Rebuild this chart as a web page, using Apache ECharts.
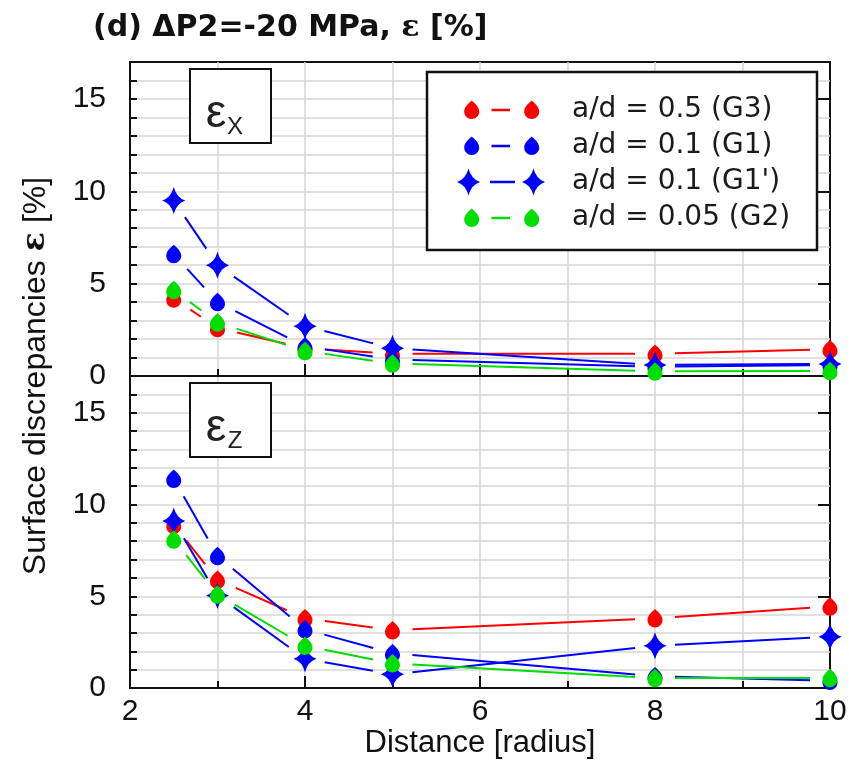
<!DOCTYPE html>
<html><head><meta charset="utf-8">
<script src="https://cdn.jsdelivr.net/npm/echarts@6/dist/echarts.min.js"></script>
<style>html,body{margin:0;padding:0;background:#fff}#c{width:856px;height:760px}</style>
</head><body><div id="c"></div><script>
// ---------------- data ----------------
const distance = [2.5, 3, 4, 5, 8, 10];
const seriesNames = ['a/d = 0.5 (G3)', 'a/d = 0.1 (G1)', "a/d = 0.1 (G1')", 'a/d = 0.05 (G2)'];
const epsX_G3  = [4.2, 2.6, 1.5, 1.2, 1.2, 1.45];
const epsX_G1  = [6.6, 4.0, 1.6, 0.9, 0.5, 0.6];
const epsX_G1p = [9.5, 6.0, 2.7, 1.5, 0.6, 0.65];
const epsX_G2  = [4.65, 2.9, 1.35, 0.68, 0.25, 0.27];
const epsZ_G3  = [8.9, 5.9, 3.8, 3.15, 3.8, 4.45];
const epsZ_G1  = [11.4, 7.2, 3.2, 1.9, 0.65, 0.4];
const epsZ_G1p = [9.1, 5.05, 1.6, 0.75, 2.3, 2.8];
const epsZ_G2  = [8.1, 5.1, 2.3, 1.35, 0.55, 0.55];
const xTickLabels = ['2', '4', '6', '8', '10'];
const yTickLabels = ['0', '5', '10', '15'];
const panelSubscripts = ['X', 'Z'];
const titleText = '(d) ΔP2=-20 MPa, ';
const yName = 'Surface discrepancies ';
const xName = 'Distance [radius]';

// ---------------- styling ----------------
const colors = ['#ff0000', '#0000ff', '#0000ff', '#00dd00'];
const isStar = [false, false, true, false];
const panels = [
  [epsX_G3, epsX_G1, epsX_G1p, epsX_G2],
  [epsZ_G3, epsZ_G1, epsZ_G1p, epsZ_G2]
];
const SANS = '"Liberation Sans", Arial, sans-serif';
const DEJ = '"DejaVu Sans", sans-serif';
const GAP = 20;

function f(n) { return (Math.round(n * 100) / 100).toString(); }
function dropPath(cx, cy) {
  const r = 7.5, k = 4.14;
  return 'M' + f(cx) + ',' + f(cy - 9.5) +
    ' C' + f(cx + 2.5) + ',' + f(cy - 7) + ' ' + f(cx + r) + ',' + f(cy - 3.5) + ' ' + f(cx + r) + ',' + f(cy + 1.5) +
    ' C' + f(cx + r) + ',' + f(cy + 1.5 + k) + ' ' + f(cx + k) + ',' + f(cy + 9) + ' ' + f(cx) + ',' + f(cy + 9) +
    ' C' + f(cx - k) + ',' + f(cy + 9) + ' ' + f(cx - r) + ',' + f(cy + 1.5 + k) + ' ' + f(cx - r) + ',' + f(cy + 1.5) +
    ' C' + f(cx - r) + ',' + f(cy - 3.5) + ' ' + f(cx - 2.5) + ',' + f(cy - 7) + ' ' + f(cx) + ',' + f(cy - 9.5) + ' Z';
}
function starPath(cx, cy) {
  const w = 11.5, h = 13.5, c = 2.8;
  return 'M' + f(cx) + ',' + f(cy - h) +
    ' Q' + f(cx + c) + ',' + f(cy - c) + ' ' + f(cx + w) + ',' + f(cy) +
    ' Q' + f(cx + c) + ',' + f(cy + c) + ' ' + f(cx) + ',' + f(cy + h) +
    ' Q' + f(cx - c) + ',' + f(cy + c) + ' ' + f(cx - w) + ',' + f(cy) +
    ' Q' + f(cx - c) + ',' + f(cy - c) + ' ' + f(cx) + ',' + f(cy - h) + ' Z';
}
function rectPath(x0, x1, cy, t) {
  return 'M' + f(x0) + ',' + f(cy - t) + ' L' + f(x1) + ',' + f(cy - t) + ' L' + f(x1) + ',' + f(cy + t) + ' L' + f(x0) + ',' + f(cy + t) + ' Z';
}
const anchors = ' M0,0 L0.01,0 L0,0.01 Z M88,28 L87.99,28 L88,27.99 Z';
const legendIcons = isStar.map(s => s
  ? 'path://' + starPath(11.5, 14) + ' ' + rectPath(33, 58, 14, 1.2) + ' ' + starPath(76.5, 14) + anchors
  : 'path://' + dropPath(14.7, 14) + ' ' + rectPath(34.5, 53, 14, 1.2) + ' ' + dropPath(74.7, 14) + anchors);
const dataSymbols = isStar.map(s => s ? 'path://' + starPath(11.5, 13.5) : 'path://' + dropPath(7.5, 9.5));
const dataSymbolSizes = isStar.map(s => s ? [23, 27] : [15, 18.5]);

function lineRenderer(color) {
  return function (params, api) {
    const p0 = api.coord([api.value(0), api.value(1)]);
    const p1 = api.coord([api.value(2), api.value(3)]);
    const dx = p1[0] - p0[0], dy = p1[1] - p0[1];
    const len = Math.sqrt(dx * dx + dy * dy);
    if (len <= 2 * GAP) return null;
    const ux = dx / len, uy = dy / len;
    return {
      type: 'line',
      shape: { x1: p0[0] + ux * GAP, y1: p0[1] + uy * GAP, x2: p1[0] - ux * GAP, y2: p1[1] - uy * GAP },
      style: { stroke: color, lineWidth: 2 }
    };
  };
}

const gridTops = [62, 376];
const gridHeights = [314, 313];
const grids = gridTops.map((t, i) => ({
  left: 130, top: t, width: 700, height: gridHeights[i],
  show: true, borderColor: '#111', borderWidth: 2, backgroundColor: 'transparent'
}));

const splitStyle = { color: '#d6d6d6', width: 1.5 };
const xAxes = [0, 1].map(p => ({
  type: 'value', gridIndex: p, min: 2, max: 10, interval: 2,
  axisLine: { show: true, onZero: false, lineStyle: { color: '#111', width: 2 } },
  axisTick: { show: true, inside: true, length: 12, lineStyle: { color: '#111', width: 2 } },
  minorTick: { show: true, splitNumber: 2, length: 7, lineStyle: { color: '#111', width: 2 } },
  splitLine: { show: true, showMinLine: false, showMaxLine: false, lineStyle: splitStyle },
  minorSplitLine: { show: true, lineStyle: splitStyle },
  axisLabel: {
    show: p === 1, margin: 9, color: '#111', fontSize: 30, fontFamily: SANS,
    formatter: v => xTickLabels.includes(String(v)) ? String(v) : ''
  },
  name: p === 1 ? xName : '', nameLocation: 'middle', nameGap: 37,
  nameTextStyle: { fontSize: 31, fontFamily: SANS, color: '#111' }
}));
const yAxes = [];
[0, 1].forEach(p => {
  yAxes.push({
    type: 'value', gridIndex: p, min: 0, max: 17, interval: 1,
    axisLine: { show: true, onZero: false, lineStyle: { color: '#111', width: 2 } },
    axisTick: { show: true, inside: true, length: 7, lineStyle: { color: '#111', width: 2 } },
    splitLine: { show: true, showMinLine: false, showMaxLine: false, lineStyle: splitStyle },
    axisLabel: {
      show: true, margin: 24, color: '#111', fontSize: 30, fontFamily: SANS,
      formatter: v => yTickLabels.includes(String(v)) ? String(v) : ''
    }
  });
  yAxes.push({
    type: 'value', gridIndex: p, min: 0, max: 17, interval: 5,
    axisLine: { show: false },
    axisTick: { show: true, inside: true, length: 12, lineStyle: { color: '#111', width: 2 } },
    splitLine: { show: false },
    axisLabel: { show: false }
  });
});

const series = [];
panels.forEach((vals, p) => {
  vals.forEach((ys, s) => {
    const segs = [];
    for (let i = 0; i < distance.length - 1; i++) segs.push([distance[i], ys[i], distance[i + 1], ys[i + 1]]);
    series.push({
      type: 'custom', name: seriesNames[s], xAxisIndex: p, yAxisIndex: p * 2,
      itemStyle: { color: colors[s] }, color: colors[s],
      encode: { x: [0, 2], y: [1, 3] }, z: 2,
      renderItem: lineRenderer(colors[s]), data: segs
    });
  });
});
panels.forEach((vals, p) => {
  vals.forEach((ys, s) => {
    series.push({
      type: 'scatter', name: seriesNames[s], xAxisIndex: p, yAxisIndex: p * 2,
      symbol: dataSymbols[s], symbolSize: dataSymbolSizes[s], symbolKeepAspect: false,
      itemStyle: { color: colors[s], opacity: 1 }, z: 3 + s * 0.1,
      data: distance.map((x, i) => [x, ys[i]])
    });
  });
});

const graphics = [
  { type: 'rect', shape: { x: 427, y: 72, width: 390, height: 178 }, style: { fill: '#fff', stroke: '#111', lineWidth: 2.5 }, z: 5 },
  { type: 'text', x: 36, y: 376, rotation: Math.PI / 2, z: 5,
    style: { text: '{n|' + yName + '}{e|ε}{n| [%]}', align: 'center', verticalAlign: 'middle',
      rich: { n: { fontSize: 32, fontFamily: SANS, fill: '#111' }, e: { fontSize: 32, fontFamily: '"DejaVu Serif", serif', fontWeight: 'bold', fill: '#111' } } } }
];
gridTops.forEach((t, p) => {
  graphics.push({ type: 'rect', shape: { x: 190, y: t + 7, width: 81, height: 74 }, style: { fill: '#fff', stroke: '#111', lineWidth: 2 }, z: 5 });
  graphics.push({ type: 'text', x: 216, y: t + 75, z: 6,
    style: { text: 'ε', fontSize: 46, fontFamily: SANS, fill: '#222', align: 'center', verticalAlign: 'bottom' } });
  graphics.push({ type: 'text', x: 235, y: t + 77, z: 6,
    style: { text: panelSubscripts[p], fontSize: 24, fontFamily: SANS, fill: '#222', align: 'center', verticalAlign: 'bottom' } });
});

const chart = echarts.init(document.getElementById('c'), null, { renderer: 'canvas' });
chart.setOption({
  animation: false,
  backgroundColor: '#fff',
  title: {
    left: 88, top: 8,
    text: '{a|' + titleText + '}{e|ε}{a| [%]}',
    textStyle: {
      rich: {
        a: { fontSize: 30, fontFamily: DEJ, fontWeight: 'bold', color: '#111' },
        e: { fontSize: 30, fontFamily: '"DejaVu Serif", serif', fontWeight: 'bold', color: '#111' }
      }
    }
  },
  legend: {
    orient: 'vertical', left: 452, top: 91, z: 10,
    itemWidth: 88, itemHeight: 28, itemGap: 8,
    itemStyle: { borderWidth: 0 },
    textStyle: { fontSize: 28, fontFamily: DEJ, color: '#1a1a1a', lineHeight: 28, padding: [0, 0, 0, 22] },
    data: seriesNames.map((n, i) => ({ name: n, icon: legendIcons[i], itemStyle: { color: colors[i], borderWidth: 0 } })),
    selectedMode: false
  },
  grid: grids,
  xAxis: xAxes,
  yAxis: yAxes,
  graphic: { elements: graphics },
  series: series
});
</script></body></html>
